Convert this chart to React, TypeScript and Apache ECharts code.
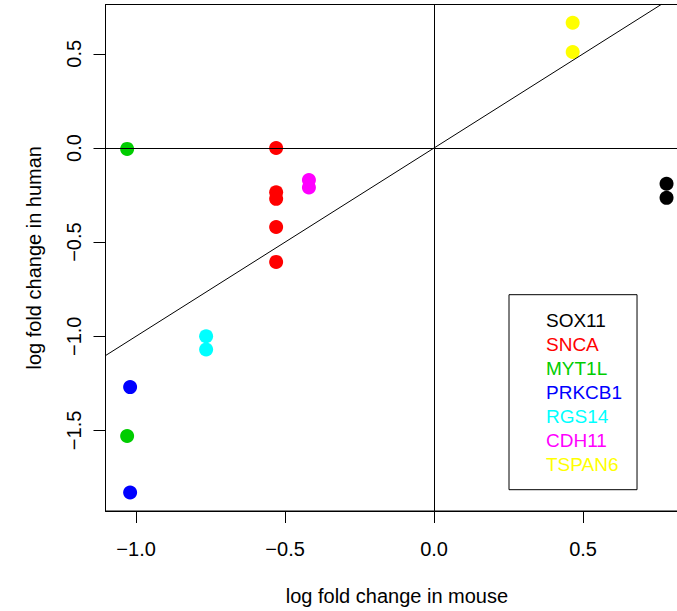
import React, { useEffect, useRef } from "react";
import * as echarts from "echarts";

const genes = ["SOX11", "SNCA", "MYT1L", "PRKCB1", "RGS14", "CDH11", "TSPAN6"];
const geneColors = ["#000000", "#FF0000", "#00CD00", "#0000FF", "#00FFFF", "#FF00FF", "#FFFF00"];
const mouseLogFC = [0.78, -0.53, -1.03, -1.02, -0.765, -0.42, 0.465];
const humanSOX11 = [-0.19, -0.265];
const humanSNCA = [0.0, -0.235, -0.27, -0.42, -0.605];
const humanMYT1L = [-0.005, -1.53];
const humanPRKCB1 = [-1.27, -1.83];
const humanRGS14 = [-1.0, -1.07];
const humanCDH11 = [-0.17, -0.21];
const humanTSPAN6 = [0.665, 0.51];
const humanValues = [humanSOX11, humanSNCA, humanMYT1L, humanPRKCB1, humanRGS14, humanCDH11, humanTSPAN6];

const xTicks = [-1.0, -0.5, 0.0, 0.5];
const yTicks = [-1.5, -1.0, -0.5, 0.0, 0.5];
const xRange = [-1.1026, 0.853];
const yRange = [-1.928, 0.762];

const FONT = "Liberation Sans, Arial, Helvetica, sans-serif";

const fmt = (v: number) => (v < 0 ? "\u2212" : "") + Math.abs(v).toFixed(1);

export default function App() {
  const ref = useRef<HTMLDivElement>(null);
  useEffect(() => {
    if (!ref.current) return;
    const chart = echarts.init(ref.current, null, { renderer: "svg" });
    const scatterSeries = genes.map((g, i) => ({
      name: g,
      type: "scatter",
      symbol: "circle",
      symbolSize: 14,
      itemStyle: { color: geneColors[i], opacity: 1 },
      data: humanValues[i].map((y) => [mouseLogFC[i], y]),
      z: 2,
    }));
    const diagLo = Math.max(xRange[0], yRange[0]);
    const diagHi = Math.min(xRange[1], yRange[1]);
    const lineSeries = {
      name: "ref",
      type: "scatter",
      data: [],
      z: 3,
      markLine: {
        silent: true,
        symbol: ["none", "none"],
        label: { show: false },
        animation: false,
        lineStyle: { color: "#000", width: 1, type: "solid" },
        data: [
          { yAxis: 0 },
          { xAxis: 0 },
          [{ coord: [diagLo, diagLo] }, { coord: [diagHi, diagHi] }],
        ],
      },
    };
    chart.setOption({
      animation: false,
      backgroundColor: "#fff",
      grid: {
        left: 105.5,
        top: 4.5,
        width: 582.8,
        height: 508,
        show: true,
        borderColor: "#000",
        borderWidth: 1,
        backgroundColor: "transparent",
      },
      xAxis: {
        type: "value",
        min: xRange[0],
        max: xRange[1],
        splitLine: { show: false },
        axisLine: { show: true, onZero: false, lineStyle: { color: "#000", width: 1 } },
        axisTick: { show: true, length: 12, customValues: xTicks, lineStyle: { color: "#000" } },
        axisLabel: {
          customValues: xTicks,
          formatter: fmt,
          margin: 28,
          color: "#000",
          fontSize: 20,
          fontFamily: FONT,
        },
        name: "log fold change in mouse",
        nameLocation: "middle",
        nameGap: 75,
        nameTextStyle: { color: "#000", fontSize: 20, fontFamily: FONT },
      },
      yAxis: {
        type: "value",
        min: yRange[0],
        max: yRange[1],
        splitLine: { show: false },
        axisLine: { show: true, onZero: false, lineStyle: { color: "#000", width: 1 } },
        axisTick: { show: true, length: 12, customValues: yTicks, lineStyle: { color: "#000" } },
        axisLabel: {
          customValues: yTicks,
          formatter: fmt,
          rotate: 90,
          margin: 22,
          color: "#000",
          fontSize: 20,
          fontFamily: FONT,
        },
        name: "log fold change in human",
        nameLocation: "middle",
        nameGap: 62,
        nameTextStyle: { color: "#000", fontSize: 20, fontFamily: FONT },
      },
      legend: {
        left: 509,
        top: 294.7,
        orient: "vertical",
        icon: "none",
        itemWidth: 0,
        itemHeight: 14,
        itemGap: 5,
        padding: [16, 15, 16, 32],
        borderColor: "#000",
        borderWidth: 1,
        backgroundColor: "#fff",
        selectedMode: false,
        data: genes.map((g, i) => ({
          name: g,
          textStyle: { color: geneColors[i], fontSize: 19, fontFamily: FONT },
        })),
        textStyle: { fontSize: 19, fontFamily: FONT },
      },
      series: [...scatterSeries, lineSeries],
    });
    return () => chart.dispose();
  }, []);
  return (
    <div
      style={{ position: "absolute", left: 0, top: 0, width: 677, height: 611, overflow: "hidden", background: "#fff" }}
    >
      <div ref={ref} style={{ width: 720, height: 611 }} />
    </div>
  );
}
